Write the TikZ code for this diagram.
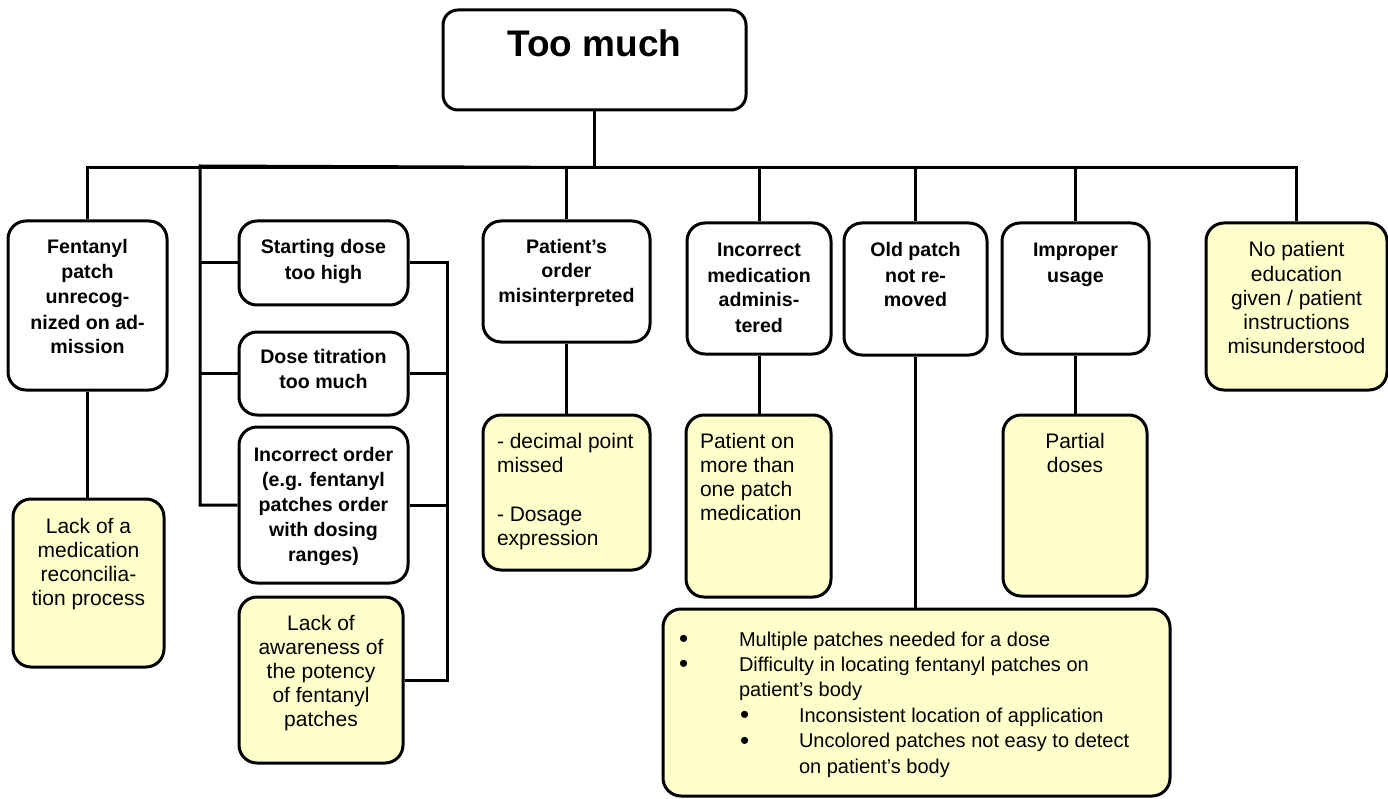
\documentclass[tikz,border=0pt]{standalone}
\usepackage{fontspec}
\setmainfont{Liberation Sans}
\definecolor{notefill}{RGB}{255,255,204}
% fixed-size text block: width, height, first baseline offset, centred text
\newcommand\cbody[4]{\parbox[c][#2][t]{#1}{\centering\rule{0pt}{#3}#4}}
% same, left aligned with a small indent
\newcommand\lbody[4]{\parbox[c][#2][t]{#1}{\raggedright\leftskip=14pt\relax\rule{0pt}{#3}#4}}
% list bullet
\newcommand\lbul{\raisebox{-1.5pt}{\fontsize{26}{26}\selectfont\textbullet}}
\tikzset{
  causebox/.style={draw, line width=3pt, rounded corners=18pt, fill=white,
    inner sep=0pt, font=\fontsize{19.6}{25}\bfseries\selectfont},
  notebox/.style={causebox, fill=notefill, font=\fontsize{21}{24}\selectfont},
  listbox/.style={causebox, fill=notefill, font=\fontsize{20}{25.4}\selectfont},
  titlebox/.style={causebox, rounded corners=15pt, font=\fontsize{37}{40}\bfseries\selectfont},
  link/.style={line width=3pt}
}
\begin{document}
\begin{tikzpicture}[x=1pt,y=-1pt]
\useasboundingbox (0,0) rectangle (1388,799);

% root
\node[titlebox] (top) at (594.5,60) {\cbody{303pt}{100pt}{47pt}{Too much}};

% first level causes
\node[causebox] (fp) at (87.5,305.5) {\cbody{159pt}{169pt}{33pt}{Fentanyl\\ patch\\ unrecog-\\ nized on ad-\\ mission}};
\node[causebox] (sd) at (323.5,263) {\cbody{169pt}{84pt}{33pt}{Starting dose\\ too high}};
\node[causebox] (dt) at (323.5,373.5) {\cbody{169pt}{83pt}{31pt}{Dose titration\\ too much}};
\node[causebox] (io) at (323.5,505) {\cbody{169pt}{156pt}{34pt}{Incorrect order\\ (e.g. fentanyl\\ patches order\\ with dosing\\ ranges)}};
\node[causebox] (po) at (566.5,281.5) {\cbody{167pt}{121pt}{32pt}{Patient's\\ order\\ misinterpreted}};
\node[causebox] (im) at (759,288.5) {\cbody{144pt}{131pt}{34pt}{Incorrect\\ medication\\ adminis-\\ tered}};
\node[causebox] (op) at (915.5,289) {\cbody{143pt}{132pt}{34pt}{Old patch\\ not re-\\ moved}};
\node[causebox] (iu) at (1075.5,288.5) {\cbody{147pt}{131pt}{34pt}{Improper\\ usage}};
\node[notebox] (np) at (1296.5,306.5) {\cbody{181pt}{167pt}{34pt}{No patient\\ education\\ given / patient\\ instructions\\ misunderstood}};

% underlying factors
\node[notebox] (lm) at (88.5,583) {\cbody{151pt}{168pt}{34pt}{Lack of a\\ medication\\ reconcilia-\\ tion process}};
\node[notebox] (la) at (321,680) {\cbody{164pt}{166pt}{33pt}{Lack of\\ awareness of\\ the potency\\ of fentanyl\\ patches}};
\node[notebox] (dp) at (566.5,492.5) {\lbody{167pt}{155pt}{33pt}{- decimal point\\ missed\\[25pt] - Dosage\\ expression}};
\node[notebox] (pm) at (758.5,506) {\lbody{145pt}{182pt}{33pt}{Patient on\\ more than\\ one patch\\ medication}};
\node[notebox] (pd) at (1075,505.5) {\cbody{144pt}{181pt}{33pt}{Partial\\ doses}};
\node[listbox] (bb) at (916.5,702.5) {\parbox[c][187pt][t]{507pt}{\raggedright\rule{0pt}{37pt}%
\hspace*{16pt}\makebox[60pt][l]{\lbul}Multiple patches needed for a dose\\
\hspace*{16pt}\makebox[60pt][l]{\lbul}Difficulty in locating fentanyl patches on\\
\hspace*{76pt}patient’s body\\
\hspace*{77pt}\makebox[59pt][l]{\lbul}Inconsistent location of application\\
\hspace*{77pt}\makebox[59pt][l]{\lbul}Uncolored patches not easy to detect\\
\hspace*{136pt}on patient’s body}};

% bus from the root
\draw[link] (top.south) -- ++(0,56) coordinate (hub);
\coordinate (lsp) at (200,166);
\coordinate (rsp) at (447,263);
\foreach \n in {fp,po,im,op,iu,np} \draw[link] (\n.north) |- (hub);

% left group: dose related causes
\draw[link] (io.west) -| (lsp) -- (hub);
\draw[link] (sd.west) -- (sd.west -| lsp);
\draw[link] (dt.west) -- (dt.west -| lsp);
\draw[link] (sd.east) -- (rsp) |- (la.east);
\draw[link] (dt.east) -- (dt.east -| rsp);
\draw[link] (io.east) -- (io.east -| rsp);

% causes to their factors
\draw[link] (fp.south) -- (fp.south |- lm.north);
\draw[link] (po.south) -- (po.south |- dp.north);
\draw[link] (im.south) -- (im.south |- pm.north);
\draw[link] (op.south) -- (op.south |- bb.north);
\draw[link] (iu.south) -- (iu.south |- pd.north);
\end{tikzpicture}
\end{document}
